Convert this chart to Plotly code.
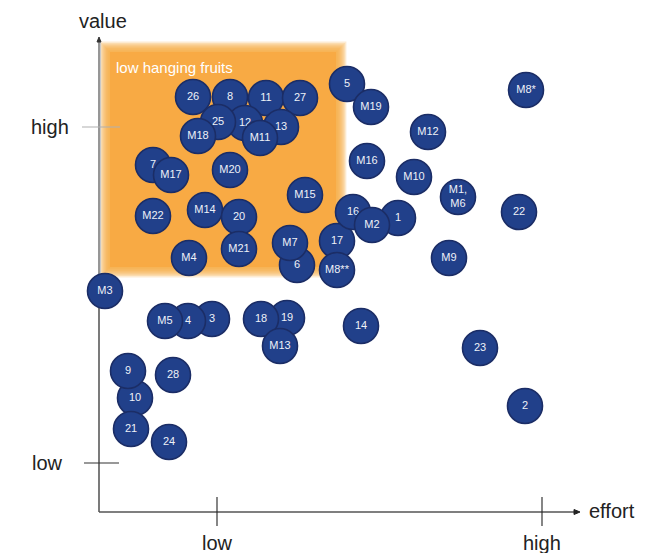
import plotly.graph_objects as go

# ---- data (effort, value) ----
labels = ["26", "8", "11", "27", "12", "25", "13", "M18", "M11",
          "7", "M17", "M20", "M15", "M22", "M14", "20", "M21",
          "6", "M7", "M4", "17", "M8**",
          "5", "M19", "M8*", "M12", "M16", "M10", "M1,<br>M6", "22",
          "16", "1", "M2", "M9",
          "M3", "3", "4", "M5", "19", "18", "M13", "14",
          "10", "9", "28", "21", "24", "23", "2"]
effort = [94, 131, 167, 201, 146, 119, 182, 99, 161,
          54, 72, 131, 206, 54, 106, 140, 140,
          198, 191, 90, 238, 238,
          248, 272, 427, 329, 268, 315, 359, 420,
          254, 299, 273, 350,
          6, 113, 89, 66, 188, 162, 181, 262,
          36, 29, 74, 32, 70, 381, 426]
value = [415, 415, 414, 414, 389, 390, 385, 376, 374,
         347, 337, 342, 317, 296, 302, 295, 263,
         247, 269, 254, 271, 242,
         428, 405, 422, 380, 351, 335, 315, 300,
         300, 294, 287, 254,
         221, 193, 191, 191, 194, 193, 166, 186,
         114, 141, 137, 83, 70, 164, 106]

axis_ticks_x = ["low", "high"]
axis_ticks_y = ["low", "high"]

FILL = "#21408A"
EDGE = "#1B2D66"
ORANGE = "#F8AA44"

fig = go.Figure()

# one trace per bubble so overlaps stack like the original
for lab, ex, va in zip(labels, effort, value):
    fig.add_trace(go.Scatter(
        x=[ex], y=[va], mode="markers+text", text=[lab],
        textposition="middle center",
        textfont=dict(family="Liberation Sans, Arial, sans-serif", size=11, color="#EEF1F8"),
        marker=dict(size=35, color=FILL, line=dict(color=EDGE, width=1.6)),
        hoverinfo="skip", showlegend=False, cliponaxis=False))

shapes = []
# soft-edged orange "low hanging fruits" area
x0, x1, y0, y1 = 11, 237, 245, 460
n = 8
for i in range(n, 0, -1):
    d = i * 1.3
    shapes.append(dict(type="rect", xref="x", yref="y", layer="below",
                       x0=x0 - d, x1=x1 + d, y0=y0 - d, y1=y1 + d,
                       fillcolor=ORANGE, opacity=0.24, line=dict(width=0)))
shapes.append(dict(type="rect", xref="x", yref="y", layer="below",
                   x0=x0, x1=x1, y0=y0, y1=y1, fillcolor=ORANGE,
                   line=dict(width=0)))

# axes
shapes += [
    dict(type="line", xref="x", yref="y", layer="below", x0=0, x1=0, y0=0, y1=222,
         line=dict(color="#222222", width=1.2)),
    dict(type="line", xref="x", yref="y", layer="below", x0=0.6, x1=0.6, y0=222, y1=472,
         line=dict(color="#C8C8C8", width=3)),
    dict(type="line", xref="x", yref="y", layer="below", x0=0, x1=0, y0=222, y1=472,
         line=dict(color="#7A7A7A", width=1.3)),
    dict(type="path", xref="x", yref="y", layer="below",
         path="M -2 470 L 2 470 L 0 475 Z", fillcolor="#333333", line=dict(color="#333333", width=1)),
    dict(type="line", xref="x", yref="y", layer="below", x0=0, x1=476, y0=0, y1=0,
         line=dict(color="#555555", width=1.5)),
    dict(type="path", xref="x", yref="y", layer="below",
         path="M 475 -2.5 L 475 2.5 L 481 0 Z", fillcolor="#222222", line=dict(color="#222222", width=1)),
    # x ticks
    dict(type="line", xref="x", yref="y", x0=118, x1=118, y0=15, y1=-14,
         line=dict(color="#222222", width=1.1)),
    dict(type="line", xref="x", yref="y", x0=443, x1=443, y0=15, y1=-14,
         line=dict(color="#222222", width=1.1)),
    # y ticks
    dict(type="line", xref="x", yref="y", layer="below", x0=-17, x1=21, y0=385, y1=385,
         line=dict(color="#B0B0B0", width=1.2)),
    dict(type="line", xref="x", yref="y", layer="below", x0=-15, x1=20, y0=49, y1=49,
         line=dict(color="#333333", width=1.1)),
]

TXT = dict(family="Liberation Sans, Arial, sans-serif", size=20, color="#222222")
annotations = [
    dict(x=4, y=491, text="value", showarrow=False, font=TXT, xanchor="center", yanchor="middle"),
    dict(x=-28, y=385, text=axis_ticks_y[1], showarrow=False, font=TXT, xanchor="right", yanchor="middle"),
    dict(x=-52, y=49, text=axis_ticks_y[0], showarrow=False, font=TXT, xanchor="center", yanchor="middle"),
    dict(x=488, y=1, text="effort", showarrow=False, font=TXT, xanchor="left", yanchor="middle"),
    dict(x=118, y=-31, text=axis_ticks_x[0], showarrow=False, font=TXT, xanchor="center", yanchor="middle"),
    dict(x=443, y=-31, text=axis_ticks_x[1], showarrow=False, font=TXT, xanchor="center", yanchor="middle"),
    dict(x=15, y=445, text="low hanging fruits", showarrow=False, xanchor="left", yanchor="middle",
         font=dict(family="Liberation Sans, Arial, sans-serif", size=15, color="#FFFFFF")),
]

# the page body adds an 8px offset, so the figure is 8px smaller and starts 8px in
fig.update_layout(
    width=661, height=545,
    margin=dict(l=0, r=0, t=0, b=0),
    paper_bgcolor="white", plot_bgcolor="white",
    xaxis=dict(range=[-91, 570], visible=False, fixedrange=True),
    yaxis=dict(range=[-41, 504], visible=False, fixedrange=True),
    shapes=shapes, annotations=annotations, showlegend=False,
)

fig.write_html("out.html")
